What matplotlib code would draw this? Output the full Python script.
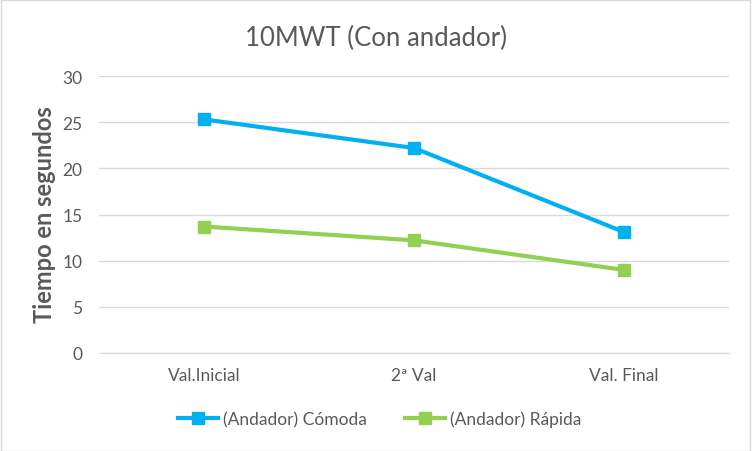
import matplotlib.pyplot as plt
from matplotlib.patches import Rectangle

categories = ["Val.Inicial", "2ª Val", "Val. Final"]
comoda = [25.3, 22.2, 13.1]
rapida = [13.7, 12.2, 9.0]
yticks = [0, 5, 10, 15, 20, 25, 30]

plt.rcParams["font.family"] = ["Lato", "DejaVu Sans"]
gray = "#595959"

fig = plt.figure(figsize=(7.52, 4.52), dpi=100)
ax = fig.add_axes([99 / 752, 1 - 354 / 452, 630 / 752, 277 / 452])

x = list(range(len(categories)))
ax.plot(x, comoda, color="#00B0F0", lw=3, marker="s", ms=8, label="(Andador) Cómoda")
ax.plot(x, rapida, color="#92D050", lw=3, marker="s", ms=8, label="(Andador) Rápida")

ax.set_xlim(-0.5, 2.5)
ax.set_ylim(0, 30)
ax.set_yticks(yticks)
ax.set_xticks(x)
ax.set_xticklabels(categories)
ax.grid(axis="y", color="#D9D9D9", lw=1)
ax.set_axisbelow(True)
for s in ["top", "right", "left"]:
    ax.spines[s].set_visible(False)
ax.spines["bottom"].set_color("#D9D9D9")
ax.tick_params(length=0, colors=gray, labelsize=12.5, pad=10)
ax.tick_params(axis="y", pad=12)

fig.text(45 / 752, 1 - 215 / 452, "Tiempo en segundos", rotation=90, ha="center", va="center",
         fontsize=17, fontweight="bold", color=gray)
fig.text(0.5, 1 - 38 / 452, "10MWT (Con andador)", ha="center", va="center", fontsize=18.5, color=gray)

fig.legend(loc="center", bbox_to_anchor=(380 / 752, 1 - 420 / 452), ncol=2, frameon=False,
           fontsize=12.5, labelcolor=gray, handlelength=2.3, columnspacing=2.2, handletextpad=0.3)

fig.patches.append(Rectangle((0.001, 0.001), 0.997, 0.997, transform=fig.transFigure,
                             fill=False, edgecolor="#D9D9D9", lw=1))

fig.savefig("out.png", dpi=100)
